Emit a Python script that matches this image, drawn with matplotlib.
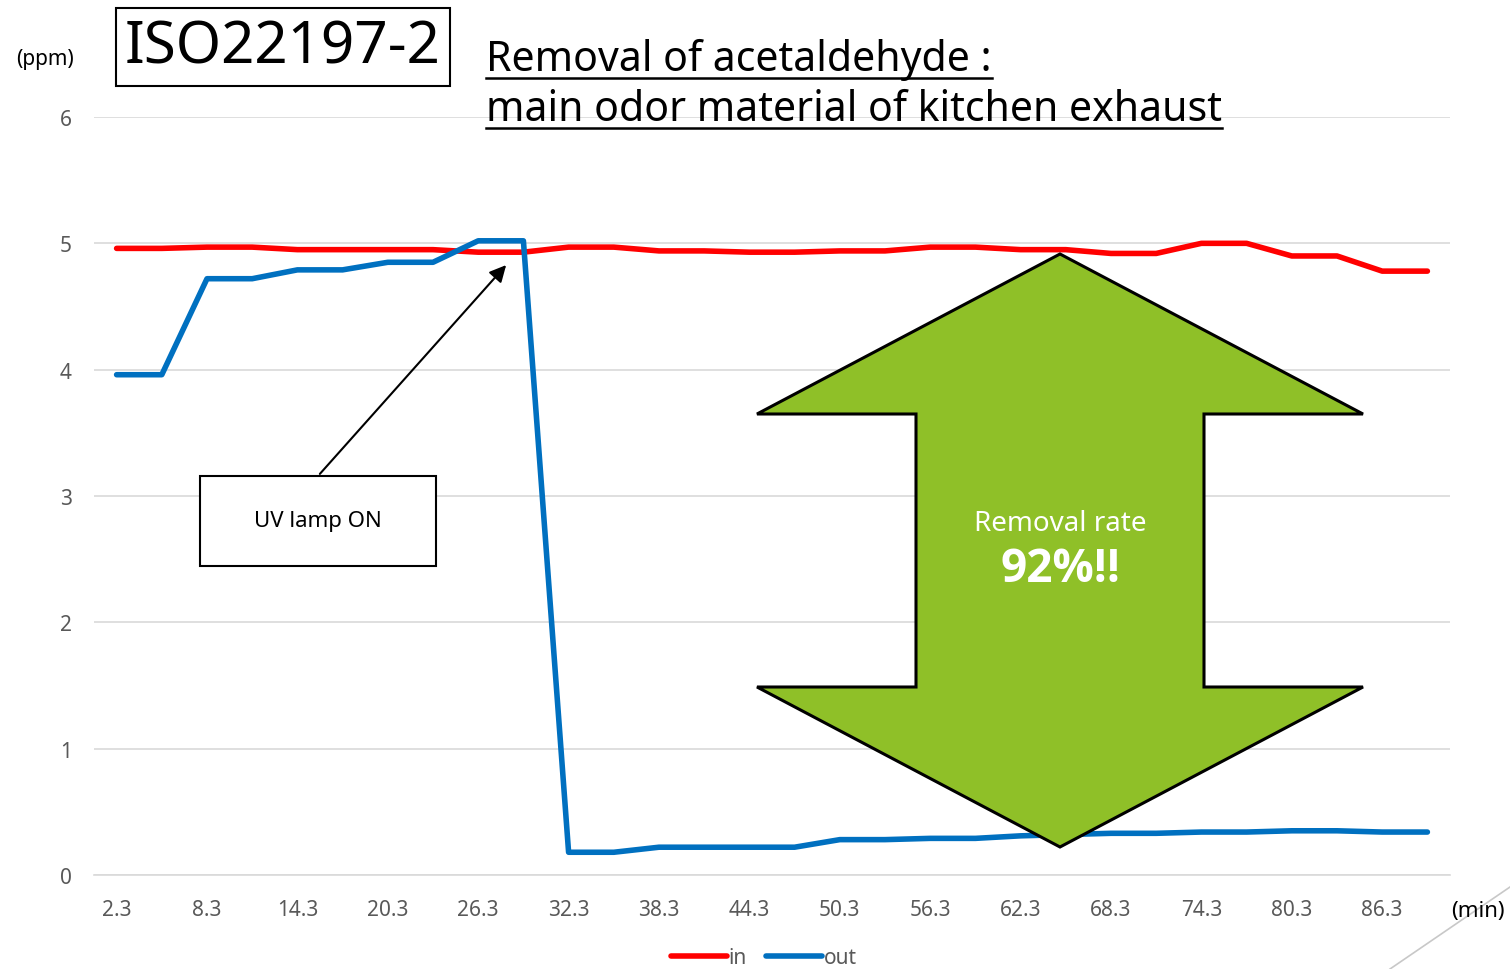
import numpy as np
import matplotlib
matplotlib.use("Agg")
import matplotlib.pyplot as plt
from matplotlib.patches import Polygon, FancyArrowPatch
from matplotlib.lines import Line2D

plt.rcParams['font.family'] = ['Noto Sans', 'DejaVu Sans']

# ---------------- data ----------------
minutes = [f"{2.3 + 3 * i:.1f}" for i in range(30)]
ppm_in = [4.96, 4.96, 4.97, 4.97, 4.95, 4.95, 4.95, 4.95, 4.93, 4.93,
          4.97, 4.97, 4.94, 4.94, 4.93, 4.93, 4.94, 4.94, 4.97, 4.97,
          4.95, 4.95, 4.92, 4.92, 5.00, 5.00, 4.90, 4.90, 4.78, 4.78]
ppm_out = [3.96, 3.96, 4.72, 4.72, 4.79, 4.79, 4.85, 4.85, 5.02, 5.02,
           0.18, 0.18, 0.22, 0.22, 0.22, 0.22, 0.28, 0.28, 0.29, 0.29,
           0.31, 0.32, 0.33, 0.33, 0.34, 0.34, 0.35, 0.35, 0.34, 0.34]
y_ticks = [0, 1, 2, 3, 4, 5, 6]

RED = '#ff0000'
BLUE = '#0070c0'
GREEN = '#8fc028'
GRAY_TXT = '#595959'

W, H = 1510, 970
fig = plt.figure(figsize=(W / 100, H / 100), dpi=100)


def px(x, y):
    # pixel coords (top-left origin) -> figure fraction
    return x / W, 1 - y / H


ax = fig.add_axes([94 / W, 1 - 876 / H, (1450 - 94) / W, (876 - 118) / H])

x = np.arange(len(minutes))
ax.plot(x, ppm_in, color=RED, lw=4, solid_capstyle='round', label='in', zorder=3)
ax.plot(x, ppm_out, color=BLUE, lw=4, solid_capstyle='round', label='out', zorder=3)

ax.set_xlim(-0.5, len(minutes) - 0.5)
ax.set_ylim(0, 6)
ax.set_yticks(y_ticks)
ax.set_xticks(x[::2])
ax.set_xticklabels(minutes[::2])
ax.tick_params(length=0, labelsize=15, labelcolor=GRAY_TXT)
ax.tick_params(axis='x', pad=17)
ax.tick_params(axis='y', pad=16)
ax.grid(axis='y', color='#d9d9d9', lw=1.2)
ax.set_axisbelow(True)
for s in ['top', 'right', 'left']:
    ax.spines[s].set_visible(False)
ax.spines['bottom'].set_color('#d9d9d9')
ax.spines['bottom'].set_linewidth(1.2)

# axis unit labels
fig.text(*px(45, 60), '(ppm)', ha='center', va='center', fontsize=15, color='black')
fig.text(*px(1478, 912), '(min)', ha='center', va='center', fontsize=16, color='black')

# decorative diagonal line bottom-right
fig.add_artist(Line2D([1390 / W, 1.0], [0.0, 1 - 888 / H], color='#c8c8c8', lw=1.2,
                      transform=fig.transFigure))

# ISO box
fig.text(*px(283, 48), 'ISO22197-2', ha='center', va='center', fontsize=42, color='black',
         bbox=dict(boxstyle='square,pad=0.16', fc='white', ec='black', lw=1.5))

# underlined title
title_lines = ['Removal of acetaldehyde :', 'main odor material of kitchen exhaust']
title_y = [60, 110]
fig.canvas.draw()
renderer = fig.canvas.get_renderer()
for t, yy in zip(title_lines, title_y):
    txt = fig.text(*px(486, yy), t, ha='left', va='center', fontsize=29.5, color='black')
    bb = txt.get_window_extent(renderer).transformed(fig.transFigure.inverted())
    uy = 1 - (yy + 19) / H
    fig.add_artist(Line2D([bb.x0, bb.x1], [uy, uy], color='black', lw=1.8,
                          transform=fig.transFigure))

# UV lamp annotation
bx0, by0, bx1, by1 = 200, 477, 436, 567
fig.add_artist(Polygon([px(bx0, by0), px(bx1, by0), px(bx1, by1), px(bx0, by1)],
                       closed=True, fc='white', ec='black', lw=1.5,
                       transform=fig.transFigure, zorder=5))
fig.text(*px((bx0 + bx1) / 2, (by0 + by1) / 2), 'UV lamp ON', ha='center', va='center',
         fontsize=16, color='black', zorder=6)
fig.add_artist(FancyArrowPatch(px(318, 477), px(508, 264), transform=fig.transFigure,
                               arrowstyle='-|>,head_length=10,head_width=5', color='black',
                               lw=1.5, zorder=6))

# green double arrow
arrow_pts = [(1060, 255), (1363, 415), (1204, 415), (1204, 688), (1363, 688),
             (1060, 848), (757, 688), (916, 688), (916, 415), (757, 415)]
fig.add_artist(Polygon([px(a, b) for a, b in arrow_pts], closed=True, fc=GREEN, ec='black',
                       lw=2.2, joinstyle='miter', transform=fig.transFigure, zorder=7))
fig.text(*px(1060, 524), 'Removal rate', ha='center', va='center', fontsize=20,
         color='white', zorder=8)
fig.text(*px(1060, 570), '92%!!', ha='center', va='center', fontsize=33,
         fontweight='bold', family=['Open Sans', 'DejaVu Sans'], color='white', zorder=8)

# legend
fig.legend(loc='center', bbox_to_anchor=px(764, 959), ncol=2, frameon=False,
           fontsize=15, handlelength=2.7, handletextpad=0.1, columnspacing=0.9,
           labelcolor=GRAY_TXT)

fig.savefig('out.png', dpi=100)
